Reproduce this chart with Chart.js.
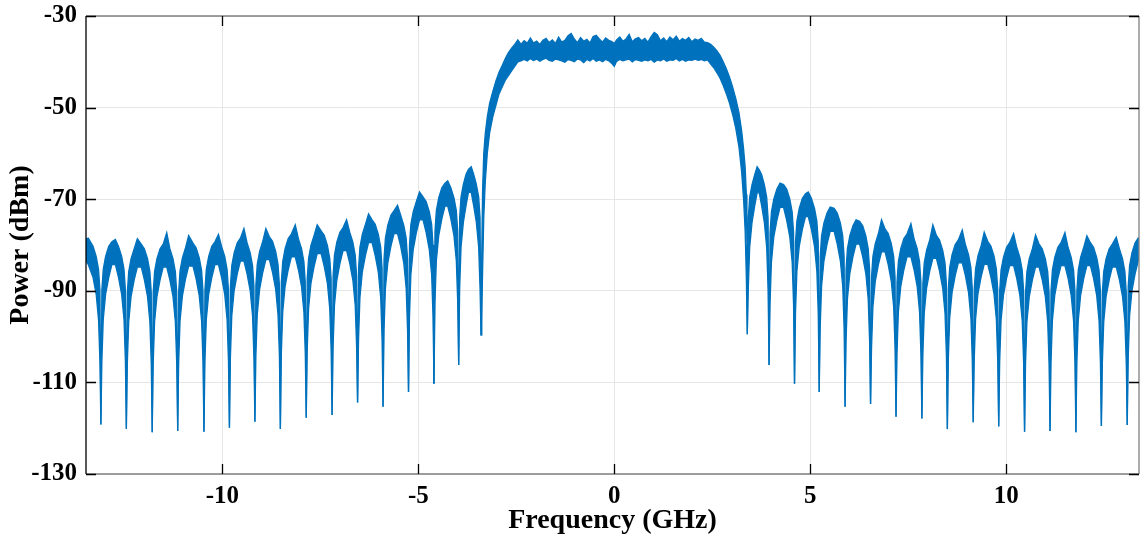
<!DOCTYPE html>
<html>
<head>
<meta charset="utf-8">
<script src="https://cdn.jsdelivr.net/npm/chart.js@4.4.1/dist/chart.umd.min.js"></script>
<style>
  html, body { margin: 0; padding: 0; background: #fff; }
  #chart { display: block; }
</style>
</head>
<body>
<canvas id="chart" width="1140" height="538"></canvas>
<script>
const xTicks = [-10, -5, 0, 5, 10];
const yTicks = [-130, -110, -90, -70, -50, -30];

// spectrum: frequency (GHz), upper and lower edge of the noisy trace (dBm)
const freqGHz = [
  -13.48, -13.42, -13.30, -13.22, -13.16, -13.125,
  -13.10, -13.075, -13.04, -12.98, -12.90, -12.82, -12.73, -12.65, -12.57, -12.51, -12.475,
  -12.45, -12.425, -12.39, -12.33, -12.25, -12.17, -12.07, -11.99, -11.91, -11.85, -11.815,
  -11.79, -11.765, -11.73, -11.67, -11.59, -11.51, -11.42, -11.34, -11.26, -11.20, -11.165,
  -11.14, -11.115, -11.08, -11.02, -10.94, -10.86, -10.75, -10.67, -10.59, -10.53, -10.495,
  -10.47, -10.445, -10.41, -10.35, -10.27, -10.19, -10.10, -10.02, -9.94, -9.88, -9.845,
  -9.82, -9.795, -9.76, -9.70, -9.62, -9.54, -9.45, -9.37, -9.29, -9.23, -9.195,
  -9.17, -9.145, -9.11, -9.05, -8.97, -8.89, -8.80, -8.72, -8.64, -8.58, -8.545,
  -8.52, -8.495, -8.46, -8.40, -8.32, -8.24, -8.14, -8.06, -7.98, -7.92, -7.885,
  -7.86, -7.835, -7.80, -7.74, -7.66, -7.58, -7.48, -7.40, -7.32, -7.26, -7.225,
  -7.20, -7.175, -7.14, -7.08, -7.00, -6.92, -6.83, -6.75, -6.67, -6.61, -6.575,
  -6.55, -6.525, -6.49, -6.43, -6.35, -6.27, -6.18, -6.10, -6.02, -5.96, -5.925,
  -5.90, -5.875, -5.84, -5.78, -5.70, -5.62, -5.53, -5.45, -5.37, -5.31, -5.275,
  -5.25, -5.225, -5.19, -5.13, -5.05, -4.97, -4.88, -4.80, -4.72, -4.66, -4.625,
  -4.60, -4.575, -4.54, -4.48, -4.40, -4.32, -4.25, -4.17, -4.09, -4.03, -3.995,
  -3.97, -3.945, -3.91, -3.85, -3.78, -3.72, -3.65, -3.59, -3.52, -3.46, -3.425,
  -3.40, -3.385, -3.36, -3.33, -3.29, -3.24, -3.18, -3.10, -3.02, -2.94, -2.86, -2.78,
  -2.70, -2.62, -2.54, -2.46, -2.38, -2.30, -2.22, -2.14, -2.06, -1.98, -1.90, -1.82,
  -1.74, -1.66, -1.58, -1.50, -1.42, -1.34, -1.26, -1.18, -1.10, -1.02, -0.94, -0.86,
  -0.78, -0.70, -0.62, -0.54, -0.46, -0.38, -0.30, -0.22, -0.14, -0.06, 0.00, 0.06,
  0.14, 0.22, 0.30, 0.38, 0.46, 0.54, 0.62, 0.70, 0.78, 0.86, 0.94, 1.02,
  1.10, 1.18, 1.26, 1.34, 1.42, 1.50, 1.58, 1.66, 1.74, 1.82, 1.90, 1.98,
  2.06, 2.14, 2.22, 2.30, 2.38, 2.46, 2.54, 2.62, 2.70, 2.78, 2.86, 2.94,
  3.02, 3.10, 3.18, 3.25, 3.30, 3.34, 3.37, 3.385, 3.395,
  3.42, 3.455, 3.515, 3.585, 3.645, 3.70, 3.76, 3.83, 3.89, 3.925,
  3.95, 3.975, 4.01, 4.07, 4.15, 4.23, 4.32, 4.40, 4.48, 4.54, 4.575,
  4.60, 4.625, 4.66, 4.72, 4.80, 4.88, 4.95, 5.03, 5.11, 5.17, 5.205,
  5.23, 5.255, 5.29, 5.35, 5.43, 5.51, 5.61, 5.69, 5.77, 5.83, 5.865,
  5.89, 5.915, 5.95, 6.01, 6.09, 6.17, 6.26, 6.34, 6.42, 6.48, 6.515,
  6.54, 6.565, 6.60, 6.66, 6.74, 6.82, 6.91, 6.99, 7.07, 7.13, 7.165,
  7.19, 7.215, 7.25, 7.31, 7.39, 7.47, 7.57, 7.65, 7.73, 7.79, 7.825,
  7.85, 7.875, 7.91, 7.97, 8.05, 8.13, 8.22, 8.30, 8.38, 8.44, 8.475,
  8.50, 8.525, 8.56, 8.62, 8.70, 8.78, 8.88, 8.96, 9.04, 9.10, 9.135,
  9.16, 9.185, 9.22, 9.28, 9.36, 9.44, 9.53, 9.61, 9.69, 9.75, 9.785,
  9.81, 9.835, 9.87, 9.93, 10.01, 10.09, 10.19, 10.27, 10.35, 10.41, 10.445,
  10.47, 10.495, 10.53, 10.59, 10.67, 10.75, 10.84, 10.92, 11.00, 11.06, 11.095,
  11.12, 11.145, 11.18, 11.24, 11.32, 11.40, 11.50, 11.58, 11.66, 11.72, 11.755,
  11.78, 11.805, 11.84, 11.90, 11.98, 12.06, 12.15, 12.23, 12.31, 12.37, 12.405,
  12.43, 12.455, 12.49, 12.55, 12.63, 12.71, 12.81, 12.89, 12.97, 13.03, 13.065,
  13.09, 13.115, 13.15, 13.21, 13.29, 13.37, 13.42
];

const powerTop = [
  -78.6, -78.5, -80.3, -82.5, -85.3, -89.8,
  -119.2, -89.8, -85.3, -82.5, -80.3, -79.3, -78.8, -80.3, -82.5, -85.3, -89.8,
  -120.1, -90.3, -85.8, -83.0, -80.8, -78.6, -79.8, -80.8, -83.0, -85.8, -90.3,
  -120.9, -90.3, -85.8, -83.0, -80.8, -79.8, -77.3, -80.8, -83.0, -85.8, -90.3,
  -120.6, -90.1, -85.6, -82.8, -80.6, -77.9, -79.6, -80.6, -82.8, -85.6, -90.1,
  -120.8, -89.8, -85.3, -82.5, -80.3, -79.3, -77.7, -80.3, -82.5, -85.3, -89.8,
  -119.9, -89.0, -84.5, -81.7, -79.5, -78.5, -76.4, -79.5, -81.7, -84.5, -89.0,
  -118.6, -88.7, -84.2, -81.4, -79.2, -76.4, -78.2, -79.2, -81.4, -84.2, -88.7,
  -120.2, -88.1, -83.6, -80.8, -78.6, -77.6, -75.6, -78.6, -80.8, -83.6, -88.1,
  -117.7, -87.4, -82.9, -80.1, -77.9, -75.6, -76.9, -77.9, -80.1, -82.9, -87.4,
  -117.1, -86.7, -82.2, -79.4, -77.2, -76.2, -74.5, -77.2, -79.4, -82.2, -86.7,
  -114.4, -85.0, -80.5, -77.7, -75.5, -73.2, -74.5, -75.5, -77.7, -80.5, -85.0,
  -115.3, -83.0, -78.5, -75.7, -73.5, -72.5, -71.3, -73.5, -75.7, -78.5, -83.0,
  -112.1, -80.0, -75.5, -72.7, -70.5, -68.4, -69.5, -70.5, -72.7, -75.5, -80.0,
  -110.3, -77.0, -72.5, -69.7, -67.5, -66.5, -66.0, -67.5, -69.7, -72.5, -77.0,
  -106.2, -74.0, -69.5, -66.7, -64.5, -63.5, -62.9, -64.5, -66.7, -69.5, -74.0,
  -99.6, -84, -68, -60, -55.5, -52, -49, -46.5, -44.2, -42.3, -40.8, -39.3,
  -38.0, -37.0, -36.2, -35.2, -36.2, -35.4, -35.9, -34.8, -35.9, -35.5, -36.2, -35.3,
  -34.9, -35.8, -35.2, -36.0, -34.6, -35.7, -35.3, -34.3, -33.8, -35.0, -35.8, -34.7,
  -35.5, -35.1, -35.9, -34.5, -34.2, -35.0, -35.7, -34.8, -35.3, -35.6, -36.0, -35.2,
  -34.6, -35.5, -35.0, -34.0, -35.6, -35.0, -34.7, -35.4, -34.9, -35.7, -34.5, -33.6,
  -34.1, -35.4, -34.8, -35.6, -34.6, -35.2, -34.4, -35.5, -34.9, -35.3, -34.7, -35.6,
  -35.0, -35.3, -34.9, -35.7, -35.8, -36.2, -36.8, -37.6, -38.6, -40.0, -41.5, -43.3,
  -45.5, -48.0, -51.0, -55.0, -59.0, -63.0, -69.0, -80.0, -99.5,
  -74.1, -69.6, -66.8, -64.6, -62.9, -63.6, -64.6, -66.8, -69.6, -74.1,
  -106.2, -77.3, -72.8, -70.0, -67.8, -66.5, -66.8, -67.8, -70.0, -72.8, -77.3,
  -110.3, -79.3, -74.8, -72.0, -69.8, -68.8, -68.4, -69.8, -72.0, -74.8, -79.3,
  -112.1, -82.5, -78.0, -75.2, -73.0, -71.7, -72.0, -73.0, -75.2, -78.0, -82.5,
  -115.3, -85.3, -80.8, -78.0, -75.8, -74.5, -74.8, -75.8, -78.0, -80.8, -85.3,
  -114.7, -87.0, -82.5, -79.7, -77.5, -74.5, -76.5, -77.5, -79.7, -82.5, -87.0,
  -117.5, -88.1, -83.6, -80.8, -78.6, -77.6, -75.3, -78.6, -80.8, -83.6, -88.1,
  -117.9, -88.4, -83.9, -81.1, -78.9, -75.6, -77.9, -78.9, -81.1, -83.9, -88.4,
  -120.2, -89.4, -84.9, -82.1, -79.9, -78.9, -76.7, -79.9, -82.1, -84.9, -89.4,
  -118.7, -89.7, -85.2, -82.4, -80.2, -77.2, -79.2, -80.2, -82.4, -85.2, -89.7,
  -119.6, -90.0, -85.5, -82.7, -80.5, -79.5, -77.5, -80.5, -82.7, -85.5, -90.0,
  -120.8, -90.3, -85.8, -83.0, -80.8, -77.8, -79.8, -80.8, -83.0, -85.8, -90.3,
  -120.6, -90.0, -85.5, -82.7, -80.5, -79.5, -77.3, -80.5, -82.7, -85.5, -90.0,
  -120.9, -90.0, -85.5, -82.7, -80.5, -78.0, -79.5, -80.5, -82.7, -85.5, -90.0,
  -119.5, -90.3, -85.8, -83.0, -80.8, -79.8, -78.3, -80.8, -83.0, -85.8, -90.3,
  -119.3, -89.0, -84.5, -81.7, -79.5, -78.5, -78.3
];

const powerBottom = [
  -83.5, -84.3, -87.1, -90.8, -96.3, -105.3,
  -119.2, -105.3, -96.3, -90.8, -87.1, -84.3, -84.3, -87.1, -90.8, -96.3, -105.3,
  -120.1, -105.8, -96.8, -91.3, -87.6, -84.8, -84.8, -87.6, -91.3, -96.8, -105.8,
  -120.9, -105.8, -96.8, -91.3, -87.6, -84.8, -84.8, -87.6, -91.3, -96.8, -105.8,
  -120.6, -105.6, -96.6, -91.1, -87.4, -84.6, -84.6, -87.4, -91.1, -96.6, -105.6,
  -120.8, -105.3, -96.3, -90.8, -87.1, -84.3, -84.3, -87.1, -90.8, -96.3, -105.3,
  -119.9, -104.5, -95.5, -90.0, -86.3, -83.5, -83.5, -86.3, -90.0, -95.5, -104.5,
  -118.6, -104.2, -95.2, -89.7, -86.0, -83.2, -83.2, -86.0, -89.7, -95.2, -104.2,
  -120.2, -103.6, -94.6, -89.1, -85.4, -82.6, -82.6, -85.4, -89.1, -94.6, -103.6,
  -117.7, -102.9, -93.9, -88.4, -84.7, -81.9, -81.9, -84.7, -88.4, -93.9, -102.9,
  -117.1, -102.2, -93.2, -87.7, -84.0, -81.2, -81.2, -84.0, -87.7, -93.2, -102.2,
  -114.4, -100.5, -91.5, -86.0, -82.3, -79.5, -79.5, -82.3, -86.0, -91.5, -100.5,
  -115.3, -98.5, -89.5, -84.0, -80.3, -77.5, -77.5, -80.3, -84.0, -89.5, -98.5,
  -112.1, -95.5, -86.5, -81.0, -77.3, -74.5, -74.5, -77.3, -81.0, -86.5, -95.5,
  -110.3, -92.5, -83.5, -78.0, -74.3, -71.5, -71.5, -74.3, -78.0, -83.5, -92.5,
  -106.2, -89.5, -80.5, -75.0, -71.3, -68.5, -68.5, -71.3, -75.0, -80.5, -89.5,
  -99.6, -97, -86, -74, -66, -60, -55.5, -52, -49.5, -47, -45.5, -44,
  -43.0, -42.0, -41.0, -40.0, -39.8, -39.5, -39.8, -39.3, -39.7, -39.4, -39.9, -39.5,
  -39.2, -39.7, -39.9, -39.4, -39.6, -39.8, -40.1, -39.5, -39.7, -40.0, -39.4, -39.6,
  -40.2, -39.5, -39.8, -39.3, -39.9, -39.6, -40.0, -39.5, -39.8, -40.4, -41.0, -39.9,
  -39.5, -39.8, -39.6, -39.4, -40.0, -39.5, -39.7, -39.9, -39.6, -39.8, -39.5, -40.1,
  -39.6, -39.8, -39.4, -39.9, -39.6, -39.7, -39.3, -39.8, -39.5, -39.9, -39.6, -39.7,
  -39.4, -39.7, -39.5, -39.8, -39.6, -40.5, -41.3, -42.4, -43.6, -45.2, -47.0, -49.0,
  -51.5, -54.5, -58.5, -64.0, -70.0, -77.0, -87.0, -95.0, -99.5,
  -89.6, -80.6, -75.1, -71.4, -68.6, -68.6, -71.4, -75.1, -80.6, -89.6,
  -106.2, -92.8, -83.8, -78.3, -74.6, -71.8, -71.8, -74.6, -78.3, -83.8, -92.8,
  -110.3, -94.8, -85.8, -80.3, -76.6, -73.8, -73.8, -76.6, -80.3, -85.8, -94.8,
  -112.1, -98.0, -89.0, -83.5, -79.8, -77.0, -77.0, -79.8, -83.5, -89.0, -98.0,
  -115.3, -100.8, -91.8, -86.3, -82.6, -79.8, -79.8, -82.6, -86.3, -91.8, -100.8,
  -114.7, -102.5, -93.5, -88.0, -84.3, -81.5, -81.5, -84.3, -88.0, -93.5, -102.5,
  -117.5, -103.6, -94.6, -89.1, -85.4, -82.6, -82.6, -85.4, -89.1, -94.6, -103.6,
  -117.9, -103.9, -94.9, -89.4, -85.7, -82.9, -82.9, -85.7, -89.4, -94.9, -103.9,
  -120.2, -104.9, -95.9, -90.4, -86.7, -83.9, -83.9, -86.7, -90.4, -95.9, -104.9,
  -118.7, -105.2, -96.2, -90.7, -87.0, -84.2, -84.2, -87.0, -90.7, -96.2, -105.2,
  -119.6, -105.5, -96.5, -91.0, -87.3, -84.5, -84.5, -87.3, -91.0, -96.5, -105.5,
  -120.8, -105.8, -96.8, -91.3, -87.6, -84.8, -84.8, -87.6, -91.3, -96.8, -105.8,
  -120.6, -105.5, -96.5, -91.0, -87.3, -84.5, -84.5, -87.3, -91.0, -96.5, -105.5,
  -120.9, -105.5, -96.5, -91.0, -87.3, -84.5, -84.5, -87.3, -91.0, -96.5, -105.5,
  -119.5, -105.8, -96.8, -91.3, -87.6, -84.8, -84.8, -87.6, -91.3, -96.8, -105.8,
  -119.3, -104.5, -95.5, -90.0, -86.3, -83.5, -83.0
];

const traceColor = '#0072BD';
const serif = 'Liberation Serif';

// box, with MATLAB-style inward ticks on all four sides
const boxPlugin = {
    id: 'box',
    afterDatasetsDraw(chart) {
        const { ctx, chartArea: a, scales } = chart;
        ctx.save();
        ctx.lineWidth = 1.3;
        ctx.strokeStyle = '#808080';
        ctx.beginPath();
        ctx.moveTo(a.left, a.top); ctx.lineTo(a.right, a.top);
        ctx.moveTo(a.left, a.bottom); ctx.lineTo(a.right, a.bottom);
        ctx.moveTo(a.right, a.top); ctx.lineTo(a.right, a.bottom);
        ctx.stroke();
        ctx.strokeStyle = '#000';
        ctx.beginPath();
        ctx.moveTo(a.left, a.top); ctx.lineTo(a.left, a.bottom);
        xTicks.forEach(v => {
            const px = Math.round(scales.x.getPixelForValue(v)) + 0.5;
            ctx.moveTo(px, a.bottom); ctx.lineTo(px, a.bottom - 10);
            ctx.moveTo(px, a.top); ctx.lineTo(px, a.top + 10);
        });
        yTicks.forEach(v => {
            const py = Math.round(scales.y.getPixelForValue(v)) + 0.5;
            ctx.moveTo(a.left, py); ctx.lineTo(a.left + 10, py);
            ctx.moveTo(a.right, py); ctx.lineTo(a.right - 10, py);
        });
        ctx.stroke();
        ctx.restore();
    }
};

new Chart(document.getElementById('chart'), {
    type: 'line',
    data: {
        datasets: [
            {
                data: freqGHz.map((f, i) => ({ x: f, y: powerTop[i] })),
                borderColor: traceColor,
                backgroundColor: traceColor,
                borderWidth: 1.3,
                pointRadius: 0,
                fill: false
            },
            {
                data: freqGHz.map((f, i) => ({ x: f, y: powerBottom[i] })),
                borderColor: traceColor,
                backgroundColor: traceColor,
                borderWidth: 1.3,
                pointRadius: 0,
                fill: '-1'
            }
        ]
    },
    options: {
        responsive: false,
        animation: false,
        devicePixelRatio: 1,
        layout: { padding: { top: 16, right: 1, left: 0, bottom: 0 } },
        plugins: {
            legend: { display: false },
            tooltip: { enabled: false }
        },
        scales: {
            x: {
                type: 'linear',
                min: -13.48,
                max: 13.39,
                afterBuildTicks: s => { s.ticks = xTicks.map(v => ({ value: v })); },
                afterFit: s => { s.height = 64; s.paddingLeft = 0; s.paddingRight = 0; },
                grid: { color: '#e6e6e6', lineWidth: 1, drawTicks: false },
                border: { display: false },
                ticks: {
                    color: '#000',
                    padding: 8,
                    maxRotation: 0,
                    font: { family: serif, size: 25, weight: 'bold' }
                },
                title: {
                    display: true,
                    text: 'Frequency (GHz)',
                    color: '#000',
                    padding: { top: 0, bottom: 0 },
                    font: { family: serif, size: 28, weight: 'bold' }
                }
            },
            y: {
                min: -130,
                max: -30,
                afterBuildTicks: s => { s.ticks = yTicks.map(v => ({ value: v })); },
                afterFit: s => { s.width = 86; s.paddingTop = 0; s.paddingBottom = 0; },
                grid: { color: '#e6e6e6', lineWidth: 1, drawTicks: false },
                border: { display: false },
                ticks: {
                    color: '#000',
                    padding: 9,
                    font: { family: serif, size: 25, weight: 'bold' }
                },
                title: {
                    display: true,
                    text: 'Power (dBm)',
                    color: '#000',
                    padding: { top: 4, bottom: 0 },
                    font: { family: serif, size: 28, weight: 'bold' }
                }
            }
        }
    },
    plugins: [boxPlugin]
});
</script>
</body>
</html>
